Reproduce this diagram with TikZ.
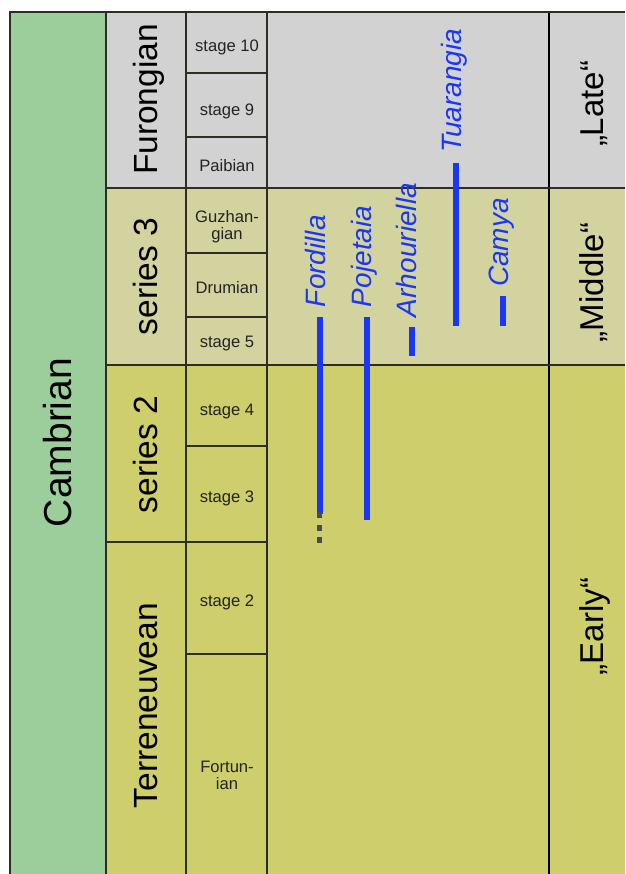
\documentclass[tikz,border=0pt]{standalone}
\usepackage{fontspec}
\setmainfont{Liberation Sans}
\definecolor{cgreen}{RGB}{155,206,155}
\definecolor{cgrey}{RGB}{210,210,210}
\definecolor{ckhaki}{RGB}{211,211,160}
\definecolor{cyell}{RGB}{206,206,108}
\definecolor{cline}{RGB}{45,45,35}
\definecolor{taxblue}{RGB}{25,55,245}
\definecolor{dotgrey}{RGB}{75,75,75}
\definecolor{stgtext}{RGB}{35,35,35}
\begin{document}
\begin{tikzpicture}[x=1pt,y=-1pt,
  rot/.style={rotate=90, anchor=base west, inner sep=0pt, outer sep=0pt},
  big/.style={rot, font=\fontsize{33.5}{36}\selectfont},
  era/.style={rot, font=\fontsize{33}{36}\selectfont},
  stg/.style={font=\fontsize{16.6}{17}\selectfont, anchor=base, inner sep=0pt, text=stgtext},
  stg2/.style={font=\fontsize{16.6}{17}\selectfont, anchor=center, inner sep=0pt, align=center, text=stgtext},
  taxon/.style={rot, font=\fontsize{28}{30}\selectfont\itshape, text=taxblue},
  bar/.style={line width=6pt, draw=taxblue},
  grid/.style={line width=1.5pt, draw=cline},
  frame/.style={line width=2.5pt, draw=cline},
  dot/.style={fill=dotgrey}]
\useasboundingbox (0,0) rectangle (625,874);
\fill[white] (0,0) rectangle (625,874);
% fills
\fill[cgreen] (10,12) rectangle (106,874);
\fill[cgrey] (106,12) rectangle (625,188);
\fill[ckhaki] (106,188) rectangle (625,365);
\fill[cyell] (106,365) rectangle (625,874);
% grid lines
\draw[grid] (106,12) -- (106,874);
\draw[grid] (186,12) -- (186,874);
\draw[grid] (267,12) -- (267,874);
\draw[line width=1.3pt, draw=black] (549,12) -- (549,874);
\draw[grid] (106,188) -- (625,188);
\draw[grid] (106,365) -- (625,365);
\draw[grid] (106,542) -- (267,542);
\foreach \yy in {73,137,253,317,446,654} \draw[grid] (186,\yy) -- (267,\yy);
\draw[frame] (10,874) -- (10,12) -- (625,12);
% period
\node[rot, font=\fontsize{39}{42}\selectfont] (cambrian) at (71.5,527) {Cambrian};
% series
\node[big] (furongian) at (157,175) {Furongian};
\node[big] (series3) at (157,335) {series 3};
\node[big] (series2) at (157,513) {series 2};
\node[big] (terreneuvean) at (157,808) {Terreneuvean};
% stages
\node[stg] (st10) at (227,51.5) {stage 10};
\node[stg] (st9) at (227,116) {stage 9};
\node[stg] (paibian) at (227,172) {Paibian};
\node[stg2] (guzhangian) at (227,226.5) {Guzhan-\\gian};
\node[stg] (drumian) at (227,294) {Drumian};
\node[stg] (st5) at (227,347) {stage 5};
\node[stg] (st4) at (227,415) {stage 4};
\node[stg] (st3) at (227,502) {stage 3};
\node[stg] (st2) at (227,606) {stage 2};
\node[stg2] (fortunian) at (227,775) {Fortun-\\ian};
% eras
\node[era] (late) at (603,147) {„Late“};
\node[era] (middle) at (603,342) {„Middle“};
\node[era] (early) at (603,675) {„Early“};
% taxa ranges
\draw[bar] (319.5,317) -- (319.5,514);
\foreach \yy in {515,528,540} \fill[dot] (316.7,\yy-2.7) rectangle (322.3,\yy+2.7);
\draw[bar] (366.7,317) -- (366.7,520);
\draw[bar] (411.7,327) -- (411.7,356);
\draw[bar] (456,163) -- (456,326);
\draw[bar] (503.3,296) -- (503.3,325.5);
\node[taxon] (fordilla) at (325,307) {Fordilla};
\node[taxon] (pojetaia) at (371.5,307) {Pojetaia};
\node[taxon] (arhouriella) at (416.5,317) {Arhouriella};
\node[taxon] (tuarangia) at (461,153) {Tuarangia};
\node[taxon] (camya) at (508,287) {Camya};
\end{tikzpicture}
\end{document}
